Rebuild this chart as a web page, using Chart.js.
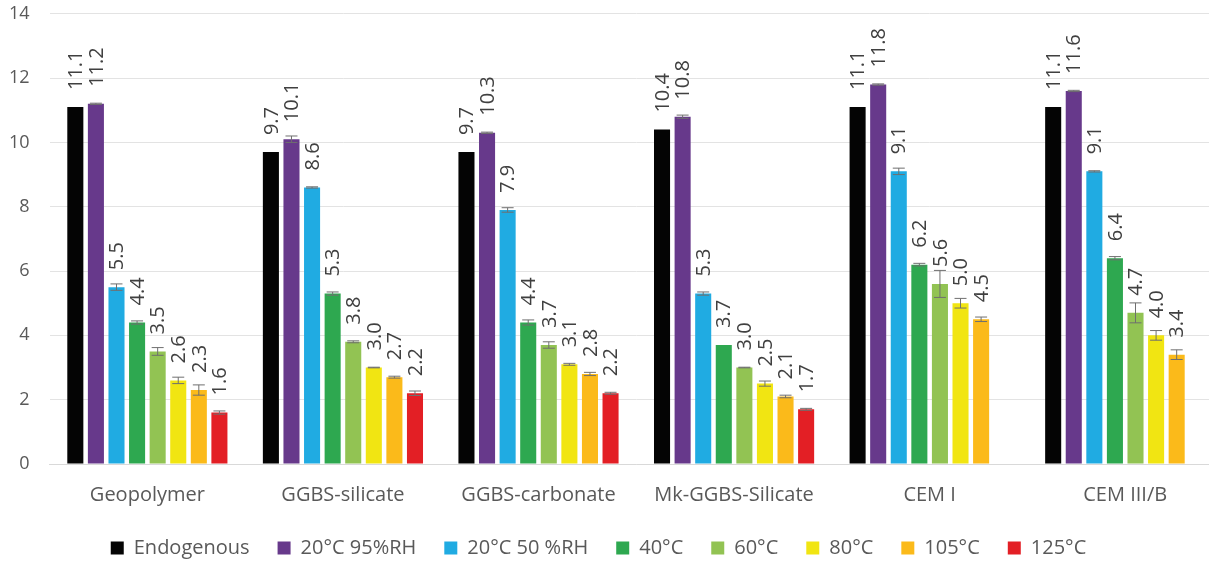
<!DOCTYPE html>
<html>
<head>
<meta charset="utf-8">
<script src="https://cdn.jsdelivr.net/npm/chart.js@4/dist/chart.umd.min.js"></script>
<style>
  html, body { margin: 0; padding: 0; background: #fff; overflow: hidden; }
  #wrap { width: 1225px; height: 561px; position: relative; }
</style>
</head>
<body>
<div id="wrap"><canvas id="chart"></canvas></div>
<script>
const categories = ["Geopolymer", "GGBS-silicate", "GGBS-carbonate", "Mk-GGBS-Silicate", "CEM I", "CEM III/B"];
const seriesNames = ["Endogenous", "20°C 95%RH", "20°C 50 %RH", "40°C", "60°C", "80°C", "105°C", "125°C"];
const seriesColors = ["#040404", "#67398b", "#20abe2", "#2ea850", "#92c353", "#f1e512", "#fbba1a", "#e31f25"];

const endogenous = [11.1, 9.7, 9.7, 10.4, 11.1, 11.1];
const rh95 = [11.2, 10.1, 10.3, 10.8, 11.8, 11.6];
const rh50 = [5.5, 8.6, 7.9, 5.3, 9.1, 9.1];
const t40 = [4.4, 5.3, 4.4, 3.7, 6.2, 6.4];
const t60 = [3.5, 3.8, 3.7, 3.0, 5.6, 4.7];
const t80 = [2.6, 3.0, 3.1, 2.5, 5.0, 4.0];
const t105 = [2.3, 2.7, 2.8, 2.1, 4.5, 3.4];
const t125 = [1.6, 2.2, 2.2, 1.7, null, null];

// error bar half-lengths
const errEndogenous = [0, 0, 0, 0, 0, 0];
const errRh95 = [0.02, 0.1, 0.02, 0.05, 0.02, 0.02];
const errRh50 = [0.1, 0.02, 0.07, 0.05, 0.1, 0.02];
const errT40 = [0.05, 0.05, 0.08, 0, 0.04, 0.05];
const errT60 = [0.12, 0.03, 0.1, 0.01, 0.42, 0.31];
const errT80 = [0.1, 0.01, 0.03, 0.08, 0.15, 0.15];
const errT105 = [0.16, 0.03, 0.05, 0.04, 0.07, 0.15];
const errT125 = [0.05, 0.07, 0.03, 0.03, null, null];

const yTicks = [0, 2, 4, 6, 8, 10, 12, 14];

const values = [endogenous, rh95, rh50, t40, t60, t80, t105, t125];
const errors = [errEndogenous, errRh95, errRh50, errT40, errT60, errT80, errT105, errT125];

const FONT = "'Open Sans', sans-serif";

const datasets = seriesNames.map((name, i) => ({
  label: name,
  data: values[i],
  errors: errors[i],
  backgroundColor: seriesColors[i],
  borderWidth: 0,
  categoryPercentage: 0.842,
  barPercentage: 0.78
}));

// error bars + rotated value labels
const barExtras = {
  id: "barExtras",
  afterDatasetsDraw(chart) {
    const ctx = chart.ctx;
    const y = chart.scales.y;
    chart.data.datasets.forEach((ds, di) => {
      const meta = chart.getDatasetMeta(di);
      meta.data.forEach((bar, i) => {
        const v = ds.data[i];
        if (v === null || v === undefined) return;
        const e = ds.errors[i];
        ctx.save();
        if (e) {
          const top = y.getPixelForValue(v + e);
          const bot = y.getPixelForValue(v - e);
          ctx.strokeStyle = "#6f6f6f";
          ctx.lineWidth = 1;
          ctx.beginPath();
          ctx.moveTo(bar.x, top);
          ctx.lineTo(bar.x, bot);
          ctx.moveTo(bar.x - 6, top);
          ctx.lineTo(bar.x + 6, top);
          ctx.moveTo(bar.x - 6, bot);
          ctx.lineTo(bar.x + 6, bot);
          ctx.stroke();
        }
        ctx.translate(bar.x, bar.y - 17);
        ctx.rotate(-Math.PI / 2);
        ctx.fillStyle = "#404040";
        ctx.font = "20px " + FONT;
        ctx.textAlign = "left";
        ctx.textBaseline = "middle";
        ctx.fillText(v.toFixed(1), 0, 1);
        ctx.restore();
      });
    });
  }
};

// nudge legend a little to the left like the original
const legendShift = {
  id: "legendShift",
  afterLayout(chart) {
    chart.legend.left -= 16;
    chart.legend.right -= 16;
  }
};

const hidden = "rgba(0,0,0,0)";

new Chart(document.getElementById("chart"), {
  type: "bar",
  data: { labels: categories, datasets: datasets },
  options: {
    responsive: true,
    maintainAspectRatio: false,
    animation: false,
    layout: { padding: { left: 6, right: 2, top: 0, bottom: -7 } },
    plugins: {
      legend: {
        position: "bottom",
        labels: {
          boxWidth: 13,
          boxHeight: 13,
          padding: 28,
          color: "#595959",
          font: { family: FONT, size: 20 }
        }
      },
      tooltip: { enabled: false }
    },
    scales: {
      x: {
        grid: { display: true, drawOnChartArea: false, drawTicks: true, tickLength: 16, tickColor: hidden },
        border: { display: true, color: "#d9d9d9", width: 1 },
        ticks: { color: "#595959", padding: 3, font: { family: FONT, size: 20 } }
      },
      y: {
        min: 0,
        max: 14,
        afterBuildTicks(scale) { scale.ticks = yTicks.map(v => ({ value: v })); },
        grid: { color: "#e3e3e3", lineWidth: 1, drawTicks: true, tickLength: 17, tickColor: hidden },
        border: { display: false },
        ticks: { color: "#595959", padding: 3, font: { family: FONT, size: 18 } }
      }
    }
  },
  plugins: [barExtras, legendShift]
});
</script>
</body>
</html>
